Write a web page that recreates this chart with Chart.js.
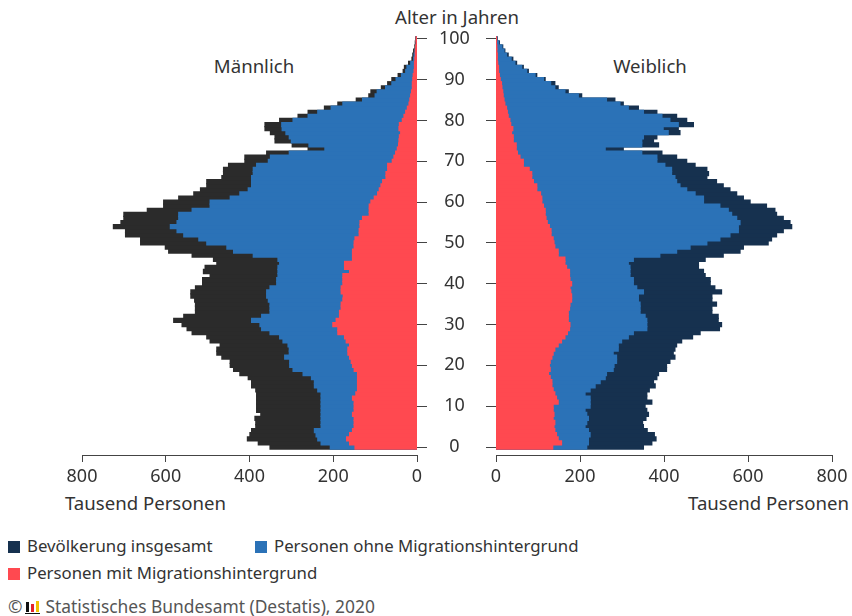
<!DOCTYPE html>
<html lang="de">
<head>
<meta charset="utf-8">
<title>Bevölkerung nach Migrationshintergrund</title>
<script src="https://cdn.jsdelivr.net/npm/chart.js@4/dist/chart.umd.min.js"></script>
<style>
  html, body { margin: 0; padding: 0; background: #fff; }
  body { width: 852px; height: 616px; position: relative; overflow: hidden;
         font-family: "Noto Sans", sans-serif; color: #333; }
  canvas { position: absolute; top: 0; }
  #male { left: 0; }
  #female { left: 457px; }
  .txt { position: absolute; white-space: nowrap; font-size: 18.6px; line-height: 22px; }
  .legend { position: absolute; font-size: 16.8px; line-height: 20px; white-space: nowrap; }
  .sq { display: inline-block; width: 12px; height: 12px; margin-right: 7px; vertical-align: -1px; }
  .src { position: absolute; left: 8px; top: 596px; font-size: 17.4px; line-height: 20px; color: #555; white-space: nowrap; }
  .logo { display: inline-block; position: relative; width: 15px; height: 13px; margin: 0 5px 0 3px; vertical-align: -1px; }
  .logo i { position: absolute; bottom: 2px; width: 3px; }
</style>
</head>
<body>
<div class="txt" style="left:0;width:914px;text-align:center;top:6px;">Alter in Jahren</div>
<div class="txt" style="left:154px;width:200px;text-align:center;top:55px;">Männlich</div>
<div class="txt" style="left:550px;width:200px;text-align:center;top:55px;">Weiblich</div>
<div class="txt" style="left:65px;top:492px;">Tausend Personen</div>
<div class="txt" style="right:3px;top:492px;">Tausend Personen</div>

<canvas id="male" width="496" height="485"></canvas>
<canvas id="female" width="395" height="485"></canvas>

<div class="legend" style="left:8px;top:536px;"><span class="sq" style="background:#16314f"></span>Bevölkerung insgesamt</div>
<div class="legend" style="left:255px;top:536px;"><span class="sq" style="background:#2b72b7"></span>Personen ohne Migrationshintergrund</div>
<div class="legend" style="left:8px;top:563px;"><span class="sq" style="background:#ff4950"></span>Personen mit Migrationshintergrund</div>
<div class="src">©<span class="logo"><i style="left:1px;height:10px;background:#111"></i><i style="left:6px;height:8px;background:#e3242b"></i><i style="left:11px;height:11px;background:#f2c200"></i><i style="left:0;bottom:0;width:15px;height:1px;background:#111"></i></span>Statistisches Bundesamt (Destatis), 2020</div>

<script>
// Alter 0 bis 100 (100 = 100 und älter)
const ages = [
  0, 1, 2, 3, 4, 5, 6, 7, 8, 9, 10, 11, 12, 13, 14, 15, 16, 17, 18, 19,
  20, 21, 22, 23, 24, 25, 26, 27, 28, 29, 30, 31, 32, 33, 34, 35, 36, 37, 38, 39,
  40, 41, 42, 43, 44, 45, 46, 47, 48, 49, 50, 51, 52, 53, 54, 55, 56, 57, 58, 59,
  60, 61, 62, 63, 64, 65, 66, 67, 68, 69, 70, 71, 72, 73, 74, 75, 76, 77, 78, 79,
  80, 81, 82, 83, 84, 85, 86, 87, 88, 89, 90, 91, 92, 93, 94, 95, 96, 97, 98, 99, 100
];
const ageTicks = [0, 10, 20, 30, 40, 50, 60, 70, 80, 90, 100];
const valueTicks = [0, 200, 400, 600, 800];

// Tausend Personen, Männer
const maleTotal = [
  351, 379, 405, 399, 395, 385, 385, 387, 373, 383, 383, 383, 383, 383, 385, 395, 395, 403, 423, 438,
  446, 446, 466, 478, 478, 470, 494, 502, 537, 549, 561, 581, 557, 529, 529, 529, 531, 540, 540, 529,
  512, 512, 494, 510, 506, 478, 486, 537, 593, 601, 660, 660, 696, 696, 725, 707, 700, 700, 644, 605,
  605, 569, 533, 517, 502, 502, 466, 462, 462, 450, 411, 411, 359, 260, 298, 339, 339, 350, 363, 363,
  328, 284, 260, 221, 189, 145, 115, 110, 85, 70, 60, 45, 33, 30, 20, 12, 10, 8, 5, 4, 3
];
const maleOhne = [
  207, 229, 237, 241, 245, 229, 229, 229, 229, 229, 229, 229, 229, 229, 237, 245, 245, 252, 272, 296,
  304, 304, 316, 305, 305, 308, 320, 328, 351, 371, 375, 395, 371, 351, 351, 351, 355, 359, 359, 351,
  335, 335, 332, 332, 332, 328, 332, 391, 438, 454, 502, 521, 557, 573, 589, 573, 569, 569, 537, 494,
  494, 446, 423, 403, 395, 395, 395, 391, 391, 383, 355, 350, 305, 220, 258, 300, 305, 313, 322, 323,
  296, 260, 237, 205, 177, 130, 100, 95, 75, 60, 50, 37, 27, 24, 15, 8, 7, 5, 3, 2, 2
];
const maleMit = [
  148, 161, 168, 161, 154, 150, 150, 150, 154, 150, 150, 150, 154, 146, 142, 142, 142, 142, 142, 150,
  154, 157, 161, 165, 165, 161, 169, 173, 189, 189, 201, 193, 185, 185, 181, 181, 177, 176, 181, 181,
  177, 177, 177, 161, 173, 173, 154, 154, 154, 150, 150, 148, 138, 138, 136, 136, 130, 114, 114, 114,
  110, 102, 94, 90, 86, 82, 74, 74, 70, 70, 59, 55, 51, 47, 44, 43, 42, 39, 43, 42,
  35, 31, 27, 23, 19, 17, 15, 13, 11, 11, 10, 9, 7, 6, 6, 5, 4, 4, 3, 2, 2
];

// Tausend Personen, Frauen
const femaleTotal = [
  351, 371, 381, 377, 360, 351, 349, 357, 363, 359, 355, 371, 359, 359, 365, 379, 375, 383, 387, 406,
  406, 414, 426, 422, 426, 430, 442, 468, 486, 532, 537, 529, 529, 514, 514, 525, 514, 514, 537, 521,
  510, 510, 498, 494, 482, 482, 498, 541, 581, 589, 648, 656, 668, 684, 704, 700, 684, 668, 664, 644,
  605, 589, 573, 557, 541, 525, 502, 506, 502, 474, 454, 430, 395, 303, 387, 375, 383, 438, 434, 470,
  454, 430, 383, 339, 303, 283, 204, 172, 148, 140, 117, 97, 77, 65, 49, 40, 29, 21, 16, 8, 3
];
const femaleOhne = [
  216, 220, 220, 224, 220, 212, 216, 220, 216, 212, 224, 224, 224, 212, 224, 236, 248, 260, 263, 279,
  281, 287, 287, 279, 291, 291, 299, 315, 327, 359, 359, 359, 355, 343, 343, 343, 339, 339, 351, 335,
  327, 327, 319, 319, 319, 315, 327, 390, 430, 462, 502, 533, 557, 577, 577, 581, 573, 561, 553, 533,
  494, 494, 474, 454, 438, 430, 426, 418, 418, 402, 383, 383, 347, 260, 347, 347, 351, 410, 398, 434,
  414, 395, 351, 315, 295, 263, 196, 164, 140, 130, 113, 93, 73, 61, 45, 36, 25, 19, 14, 6, 2
];
const femaleMit = [
  135, 156, 148, 144, 140, 138, 140, 136, 138, 136, 136, 148, 144, 140, 136, 133, 133, 129, 125, 129,
  127, 129, 133, 136, 140, 148, 156, 164, 170, 175, 176, 172, 172, 172, 175, 176, 180, 180, 178, 176,
  180, 176, 175, 175, 168, 164, 164, 148, 148, 140, 138, 136, 131, 131, 127, 122, 119, 117, 117, 113,
  109, 109, 106, 97, 97, 89, 85, 85, 79, 65, 65, 57, 51, 48, 48, 41, 41, 37, 40, 35,
  33, 29, 27, 25, 21, 19, 17, 16, 14, 13, 10, 8, 6, 6, 4, 3, 3, 2, 2, 1, 1
];

const RED = '#ff4950';
const BLUE = '#2b72b7';
const TEXT = '#333333';

function points(values) {
  return values.map((v, i) => ({ x: v, y: ages[i] }));
}

function dataset(label, values, color) {
  return {
    label: label,
    data: points(values),
    backgroundColor: color,
    borderWidth: 0,
    inflateAmount: 0.6,
    grouped: false,
    categoryPercentage: 1,
    barPercentage: 1
  };
}

function pyramidSide(canvasId, mit, ohne, total, totalColor, isLeft) {
  const ctx = document.getElementById(canvasId).getContext('2d');
  return new Chart(ctx, {
    type: 'bar',
    data: {
      datasets: [
        // first dataset is drawn on top
        dataset('Personen mit Migrationshintergrund', mit, RED),
        dataset('Personen ohne Migrationshintergrund', ohne, BLUE),
        dataset('Bevölkerung insgesamt', total, totalColor)
      ]
    },
    options: {
      indexAxis: 'y',
      responsive: false,
      animation: false,
      layout: {
        padding: isLeft ? { left: 82, top: 36, right: 0, bottom: 0 }
                        : { left: 0, top: 36, right: 20, bottom: 0 }
      },
      plugins: { legend: { display: false }, tooltip: { enabled: false } },
      scales: {
        x: {
          type: 'linear',
          reverse: isLeft,
          min: 0,
          max: 800,
          afterBuildTicks: s => { s.ticks = valueTicks.map(v => ({ value: v })); },
          afterFit: s => { s.height = 30; },
          ticks: { color: TEXT, font: { family: 'Noto Sans', size: 18 }, padding: 4, maxRotation: 0 },
          grid: { drawOnChartArea: false, tickLength: 7, color: '#444' },
          border: { color: '#444', width: 1 }
        },
        y: {
          type: 'linear',
          position: isLeft ? 'right' : 'left',
          offset: false,
          min: -1.96,
          max: 100.7,
          afterBuildTicks: s => { s.ticks = ageTicks.map(v => ({ value: v })); },
          afterFit: s => { s.width = isLeft ? 79 : 39; },
          ticks: {
            display: isLeft,
            color: TEXT,
            font: { family: 'Noto Sans', size: 18 },
            crossAlign: 'center',
            padding: 12
          },
          grid: { drawOnChartArea: false, offset: false, tickLength: 10, color: '#444' },
          border: { display: false }
        }
      }
    }
  });
}

pyramidSide('male', maleMit, maleOhne, maleTotal, '#2b2b2b', true);
pyramidSide('female', femaleMit, femaleOhne, femaleTotal, '#16314f', false);
</script>
</body>
</html>
